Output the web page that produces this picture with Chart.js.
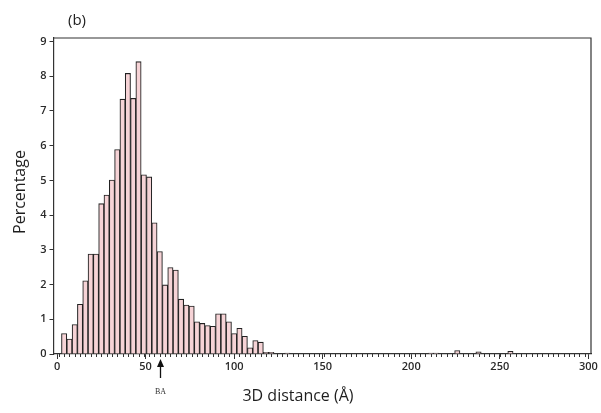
<!DOCTYPE html>
<html><head><meta charset="utf-8">
<script src="https://cdn.jsdelivr.net/npm/chart.js@4/dist/chart.umd.min.js"></script>
<style>html,body{margin:0;padding:0;background:#fff;}</style>
</head><body>
<canvas id="c" width="601" height="413"></canvas>
<script>
// Histogram bin centres (Å) and percentage of each bin
const binCenters = [4, 7, 10, 13, 16, 19, 22, 25, 28, 31, 34, 37, 40, 43, 46, 49, 52, 55, 58, 61,
  64, 67, 70, 73, 76, 79, 82, 85, 88, 91, 94, 97, 100, 103, 106, 109, 112, 115, 118, 121,
  130, 211, 214, 226, 238, 256];
const percentages = [0.59, 0.43, 0.85, 1.43, 2.11, 2.88, 2.88, 4.33, 4.58, 5.01, 5.89, 7.34, 8.08, 7.36, 8.42, 5.16, 5.10, 3.78, 2.95, 1.99,
  2.49, 2.42, 1.58, 1.41, 1.38, 0.93, 0.88, 0.82, 0.80, 1.16, 1.16, 0.93, 0.59, 0.74, 0.51, 0.18, 0.39, 0.34, 0.05, 0.05,
  0.03, 0.03, 0.03, 0.10, 0.06, 0.08];
const xTickLabels = [0, 50, 100, 150, 200, 250, 300];
const yTickLabels = [0, 1, 2, 3, 4, 5, 6, 7, 8, 9];
const markerValue = 58;          // position of the "BA" arrow on the x axis
const markerLabel = 'BA';
const panelLabel = '(b)';
const xTitle = '3D distance (Å)';
const yTitle = 'Percentage';

// minor tick marks at every bin centre across the axis
const minorTicks = [];
for (let v = 1; v <= 300; v += 3) minorTicks.push(v);

const AX = '#333';
const overlay = {
  id: 'overlay',
  afterDraw(chart) {
    const {ctx, chartArea: a, scales: {x, y}} = chart;
    ctx.save();
    ctx.strokeStyle = AX;
    ctx.lineWidth = 1.2;
    ctx.beginPath();
    ctx.moveTo(a.left, a.top); ctx.lineTo(a.right, a.top); ctx.lineTo(a.right, a.bottom);
    ctx.stroke();
    ctx.lineWidth = 1;
    ctx.beginPath();
    minorTicks.forEach(v => {
      const px = Math.round(x.getPixelForValue(v)) + 0.5;
      ctx.moveTo(px, a.bottom); ctx.lineTo(px, a.bottom + 3);
    });
    ctx.stroke();
    // arrow + label
    const mx = Math.round(x.getPixelForValue(markerValue)) + 0.5;
    ctx.strokeStyle = '#111'; ctx.fillStyle = '#111'; ctx.lineWidth = 1.3;
    ctx.beginPath(); ctx.moveTo(mx, a.bottom + 24); ctx.lineTo(mx, a.bottom + 12); ctx.stroke();
    ctx.beginPath(); ctx.moveTo(mx, a.bottom + 5); ctx.lineTo(mx - 3.5, a.bottom + 13); ctx.lineTo(mx + 3.5, a.bottom + 13); ctx.closePath(); ctx.fill();
    ctx.font = '8px "Liberation Serif"'; ctx.textAlign = 'center'; ctx.textBaseline = 'middle';
    ctx.fillStyle = '#333';
    ctx.fillText(markerLabel, mx, a.bottom + 38);
    // titles
    ctx.fillStyle = '#1e1e1e';
    ctx.font = '16px "Open Sans"';
    ctx.fillText(xTitle, 298, 396);
    ctx.save();
    ctx.translate(20, 192); ctx.rotate(-Math.PI / 2);
    ctx.fillText(yTitle, 0, 0);
    ctx.restore();
    ctx.font = '15px "Open Sans"';
    ctx.fillText(panelLabel, 77, 21);
    ctx.restore();
  }
};

new Chart(document.getElementById('c'), {
  type: 'bar',
  data: {
    datasets: [{
      data: binCenters.map((c, i) => ({x: c, y: percentages[i]})),
      backgroundColor: '#f6d3d6',
      borderColor: '#222',
      borderWidth: 1.1,
      barPercentage: 1,
      categoryPercentage: 1,
      borderSkipped: 'bottom'
    }]
  },
  options: {
    responsive: false,
    animation: false,
    layout: {padding: {left: 0, right: 10, top: 38, bottom: 0}},
    plugins: {legend: {display: false}, tooltip: {enabled: false}},
    scales: {
      x: {
        type: 'linear', min: -2, max: 301.5, offset: false,
        afterBuildTicks: s => { s.ticks = xTickLabels.map(v => ({value: v})); },
        afterFit: s => { s.height = 59; },
        ticks: {font: {family: 'Open Sans', size: 11, weight: '600'}, color: '#2a2a2a', padding: 1, maxRotation: 0, autoSkip: false},
        grid: {drawOnChartArea: false, offset: false, tickLength: 5, color: AX},
        border: {display: true, color: AX, width: 1.2}
      },
      y: {
        min: 0, max: 9.1,
        afterBuildTicks: s => { s.ticks = yTickLabels.map(v => ({value: v})); },
        afterFit: s => { s.width = 53.5; },
        ticks: {font: {family: 'Open Sans', size: 11, weight: '600'}, color: '#2a2a2a', padding: 3},
        grid: {drawOnChartArea: false, tickLength: 4, color: AX},
        border: {display: true, color: AX, width: 1.2}
      }
    }
  },
  plugins: [overlay]
});
</script>
</body></html>
